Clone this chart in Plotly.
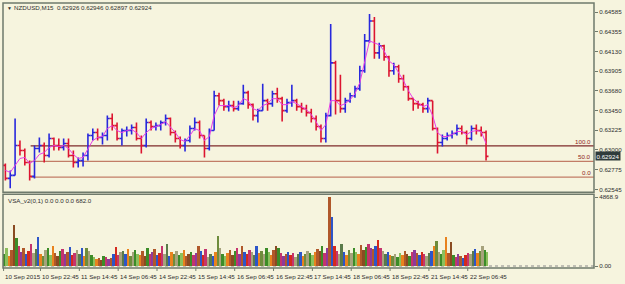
import plotly.graph_objects as go

# ---------------- data ----------------
symbol_text = "NZDUSD,M15  0.62926 0.62946 0.62897 0.62924"
indicator_text = "VSA_v2(0,1) 0.0 0.0 0.0 682.0"

tick_labels = ["10 Sep 2015", "10 Sep 22:45", "11 Sep 14:45", "14 Sep 06:45", "14 Sep 22:45",
               "15 Sep 14:45", "16 Sep 06:45", "16 Sep 22:45", "17 Sep 14:45", "18 Sep 06:45",
               "18 Sep 22:45", "21 Sep 14:45", "22 Sep 06:45"]
tick_bar = [0, 8, 16, 24, 32, 40, 48, 56, 64, 72, 80, 88, 96]

price_ticks = [0.62545, 0.62775, 0.63000, 0.63225, 0.63450, 0.63680, 0.63905, 0.64130, 0.64355, 0.64585]
price_tick_text = ["0.62545", "0.62775", "0.63000", "0.63225", "0.63450", "0.63680", "0.63905",
                   "0.64130", "0.64355", "0.64585"]

open_ = [0.62820,0.62671,0.62705,0.63049,0.62992,0.62854,0.62694,0.63015,0.63049,0.62935,
         0.63130,0.63049,0.63026,0.63072,0.62935,0.62854,0.62877,0.62935,0.63164,0.63198,
         0.63141,0.63164,0.63359,0.63278,0.63130,0.63221,0.63221,0.63256,0.63130,0.63049,
         0.63313,0.63267,0.63278,0.63313,0.63359,0.63198,0.63130,0.63049,0.63107,0.63244,
         0.63313,0.63164,0.63015,0.63221,0.63622,0.63565,0.63496,0.63508,0.63473,0.63531,
         0.63657,0.63519,0.63393,0.63450,0.63565,0.63531,0.63645,0.63588,0.63450,0.63542,
         0.63565,0.63496,0.63473,0.63427,0.63359,0.63267,0.63130,0.63393,0.64000,0.63565,
         0.63473,0.63565,0.63622,0.63703,0.63909,0.64253,0.64482,0.64115,0.64195,0.64069,
         0.63909,0.63955,0.63817,0.63725,0.63588,0.63531,0.63519,0.63473,0.63565,0.63244,
         0.63084,0.63130,0.63164,0.63187,0.63244,0.63198,0.63130,0.63244,0.63221,0.63198]
high = [0.62843,0.62763,0.63359,0.63107,0.63015,0.62877,0.63049,0.63141,0.63084,0.63187,
        0.63141,0.63130,0.63130,0.63130,0.62992,0.62912,0.62969,0.63187,0.63244,0.63244,
        0.63198,0.63393,0.63416,0.63313,0.63244,0.63267,0.63290,0.63313,0.63164,0.63359,
        0.63336,0.63313,0.63336,0.63405,0.63370,0.63221,0.63152,0.63130,0.63278,0.63370,
        0.63336,0.63164,0.63244,0.63680,0.63657,0.63588,0.63565,0.63565,0.63565,0.63748,
        0.63680,0.63531,0.63473,0.63760,0.63588,0.63680,0.63714,0.63611,0.63588,0.63748,
        0.63588,0.63542,0.63519,0.63473,0.63393,0.63290,0.63427,0.64447,0.64023,0.63863,
        0.63599,0.63657,0.63737,0.63966,0.64333,0.64562,0.64528,0.64230,0.64207,0.64081,
        0.64000,0.63978,0.63863,0.63737,0.63599,0.63565,0.63542,0.63599,0.63565,0.63256,
        0.63175,0.63198,0.63221,0.63290,0.63278,0.63221,0.63278,0.63290,0.63267,0.63221]
low = [0.62648,0.62557,0.62705,0.62935,0.62820,0.62648,0.62671,0.62969,0.62854,0.62912,
       0.62992,0.62992,0.62992,0.62912,0.62797,0.62797,0.62809,0.62877,0.63107,0.63107,
       0.63061,0.63107,0.63221,0.63107,0.63049,0.63152,0.63175,0.63107,0.62958,0.63026,
       0.63221,0.63221,0.63221,0.63278,0.63164,0.63084,0.63015,0.62981,0.63084,0.63221,
       0.63130,0.62912,0.62992,0.63221,0.63508,0.63450,0.63439,0.63439,0.63450,0.63519,
       0.63473,0.63336,0.63313,0.63450,0.63450,0.63496,0.63542,0.63324,0.63427,0.63496,
       0.63450,0.63427,0.63382,0.63313,0.63221,0.63084,0.63084,0.63382,0.63405,0.63427,
       0.63427,0.63542,0.63599,0.63680,0.63886,0.64230,0.64046,0.64046,0.64023,0.63840,
       0.63863,0.63771,0.63680,0.63565,0.63450,0.63473,0.63427,0.63427,0.63221,0.62958,
       0.63038,0.63107,0.63130,0.63164,0.63175,0.63061,0.63107,0.63175,0.63152,0.62877]
close = [0.62671,0.62705,0.63049,0.62992,0.62854,0.62694,0.63015,0.63049,0.62935,0.63130,
         0.63049,0.63026,0.63072,0.62935,0.62854,0.62877,0.62935,0.63164,0.63198,0.63141,
         0.63164,0.63359,0.63278,0.63130,0.63221,0.63221,0.63256,0.63130,0.63049,0.63313,
         0.63267,0.63278,0.63313,0.63359,0.63198,0.63130,0.63049,0.63107,0.63244,0.63313,
         0.63164,0.63015,0.63221,0.63622,0.63565,0.63496,0.63508,0.63473,0.63531,0.63657,
         0.63519,0.63393,0.63450,0.63565,0.63531,0.63645,0.63588,0.63450,0.63542,0.63565,
         0.63496,0.63473,0.63427,0.63359,0.63267,0.63130,0.63393,0.64000,0.63565,0.63473,
         0.63565,0.63622,0.63703,0.63909,0.64253,0.64482,0.64115,0.64195,0.64069,0.63909,
         0.63955,0.63817,0.63725,0.63588,0.63531,0.63519,0.63473,0.63565,0.63244,0.63084,
         0.63130,0.63164,0.63187,0.63244,0.63198,0.63130,0.63244,0.63221,0.63198,0.62924]
ma = [0.62763,0.62740,0.62820,0.62900,0.62912,0.62843,0.62877,0.62946,0.62969,0.63026,
      0.63049,0.63038,0.63049,0.63015,0.62946,0.62900,0.62912,0.63015,0.63107,0.63141,
      0.63152,0.63244,0.63278,0.63221,0.63198,0.63221,0.63233,0.63198,0.63130,0.63198,
      0.63244,0.63267,0.63290,0.63324,0.63267,0.63198,0.63118,0.63095,0.63164,0.63244,
      0.63221,0.63107,0.63152,0.63393,0.63508,0.63508,0.63508,0.63485,0.63508,0.63588,
      0.63565,0.63473,0.63450,0.63508,0.63531,0.63588,0.63588,0.63519,0.63519,0.63554,
      0.63531,0.63496,0.63462,0.63405,0.63324,0.63221,0.63290,0.63565,0.63565,0.63508,
      0.63531,0.63576,0.63645,0.63771,0.64000,0.64253,0.64230,0.64207,0.64138,0.64023,
      0.63978,0.63886,0.63794,0.63680,0.63588,0.63542,0.63496,0.63519,0.63393,0.63198,
      0.63152,0.63152,0.63175,0.63210,0.63210,0.63175,0.63210,0.63221,0.63210,0.63072]

volume = [847,1271,706,1130,2895,1977,1412,988,1271,847,1059,1553,918,1200,2047,847,706,1130,1271,777,
          1412,918,706,1059,1200,847,988,1341,777,918,1130,847,1271,706,1271,1059,777,635,494,565,
          424,706,635,494,565,847,1341,777,988,1059,847,1200,706,988,1130,847,777,1059,706,1271,
          847,988,1200,777,918,1412,847,1553,706,988,847,1059,777,918,1130,706,847,988,777,918,
          1412,1059,777,1200,635,847,706,988,2118,1271,847,706,918,1130,777,1059,1271,847,1412,988,
          847,1130,988,777,1412,918,1059,847,1271,988,777,1130,1412,1271,918,706,847,988,777,918,
          635,847,988,706,847,1059,918,777,988,1200,1059,1412,918,1271,4868.9,3459,1412,1059,847,1553,
          988,777,1130,918,1271,988,847,1483,1130,1341,1553,1271,1200,1412,1836,1271,1059,847,988,777,
          706,847,635,918,777,1059,847,706,988,1130,918,777,988,847,706,918,1059,1412,1765,988,
          847,1130,2047,918,1694,777,635,847,706,565,777,918,847,1059,1200,918,1059,1412,1130,988]
volume_max = 4868.9

fib_labels = ["100.0", "50.0", "0.0"]
fib_prices = [0.63044, 0.62866, 0.62686]
fib_start_bar = 5

# ---------------- styling / layout helpers ----------------
W, H = 625, 284
ML, MR, MT, MB = 3, 28, 3, 17
PH = H - MT - MB


def py(Y):
    return (H - MB - Y) / PH


BG = "#F6F4DE"
BORDER = "#6F7A6C"
TXT = "#2E2E2E"
FONT = "Liberation Sans"
FS = 6.2

bars = list(range(len(close)))
vol_x = [j / 2 - 0.25 for j in range(len(volume))]
xr = [-0.49, 121.23]
tick_x = [b - 0.77 for b in tick_bar]


def px_frac(v):
    return (v - xr[0]) / (xr[1] - xr[0])


palette = ['#3C8C28', '#D42A1E', '#E8821E', '#8E3A9A', '#A6A27C', '#8A4B22',
           '#2D55C8', '#8CBF5C', '#C4346E', '#6E8C3C', '#B0582A', '#5A7A4A']
vol_colors = [palette[(j * 7 + j // 3) % len(palette)] for j in range(len(volume))]

fig = go.Figure()
fig.add_trace(go.Ohlc(x=bars, open=open_, high=high, low=low, close=close,
                      increasing=dict(line=dict(color="#2828DC", width=1.6)),
                      decreasing=dict(line=dict(color="#DC1430", width=1.6)),
                      tickwidth=0.5, xaxis="x", yaxis="y", hoverinfo="skip"))
fig.add_trace(go.Scatter(x=bars, y=ma, mode="lines", line=dict(color="#E83CE8", width=1),
                         xaxis="x", yaxis="y", hoverinfo="skip"))
fig.add_trace(go.Bar(x=vol_x, y=volume, width=0.5, marker=dict(color=vol_colors, line=dict(width=0)),
                     xaxis="x2", yaxis="y2", hoverinfo="skip"))

shapes = []
fib_colors = ["#7E2A2A", "#C27C66", "#C27C66"]
for p, c in zip(fib_prices, fib_colors):
    shapes.append(dict(type="line", xref="x", yref="y", x0=fib_start_bar + 0.2, x1=xr[1], y0=p, y1=p,
                       line=dict(color=c, width=1.2), layer="below"))
shapes.append(dict(type="line", xref="paper", yref="y2", x0=0, x1=1, y0=0, y1=0,
                   line=dict(color="#8A8A8A", width=1, dash="dot"), layer="below"))
shapes.append(dict(type="rect", xref="paper", yref="paper", x0=0, x1=1, y0=py(192), y1=py(2),
                   line=dict(color=BORDER, width=1.5)))
shapes.append(dict(type="rect", xref="paper", yref="paper", x0=0, x1=1, y0=py(268), y1=py(194),
                   line=dict(color=BORDER, width=1.5)))
for tx in tick_x:
    shapes.append(dict(type="line", xref="paper", yref="paper", x0=max(px_frac(tx), 0.001),
                       x1=max(px_frac(tx), 0.001), y0=py(268), y1=py(271),
                       line=dict(color=BORDER, width=1)))

ann = []
ann.append(dict(xref="paper", yref="paper", x=(5 - ML) / 594, y=py(7), text="▼", showarrow=False,
                xanchor="left", yanchor="middle", font=dict(family=FONT, size=5, color=TXT)))
ann.append(dict(xref="paper", yref="paper", x=(12 - ML) / 594, y=py(7), text=symbol_text, showarrow=False,
                xanchor="left", yanchor="middle", font=dict(family=FONT, size=FS, color=TXT)))
ann.append(dict(xref="paper", yref="paper", x=(6 - ML) / 594, y=py(200), text=indicator_text, showarrow=False,
                xanchor="left", yanchor="middle", font=dict(family=FONT, size=FS, color=TXT)))
for lab, p in zip(fib_labels, fib_prices):
    ann.append(dict(xref="paper", yref="y", x=1, y=p, text=lab, showarrow=False, xanchor="right",
                    yanchor="bottom", xshift=-1, yshift=-1,
                    font=dict(family=FONT, size=FS, color="#8E2222")))
ann.append(dict(xref="paper", yref="y", x=1, y=close[-1], text=f"{close[-1]:.5f}", showarrow=False,
                xanchor="left", yanchor="middle", xshift=1, bgcolor="#2F3B3B", borderpad=0.5,
                font=dict(family=FONT, size=FS, color="#FFFFFF")))
for tx, lab in zip(tick_x, tick_labels):
    ann.append(dict(xref="paper", yref="paper", x=max(px_frac(tx), 0.0), y=py(277), text=lab,
                    showarrow=False, xanchor="left", yanchor="middle", xshift=0,
                    font=dict(family=FONT, size=FS, color=TXT)))

fig.update_layout(
    width=W, height=H, margin=dict(l=ML, r=MR, t=MT, b=MB),
    paper_bgcolor=BG, plot_bgcolor=BG, showlegend=False, bargap=0,
    xaxis=dict(domain=[0, 1], range=xr, anchor="y", showticklabels=False, showgrid=False,
               zeroline=False, rangeslider=dict(visible=False), ticks=""),
    xaxis2=dict(domain=[0, 1], range=xr, anchor="y2", showticklabels=False, showgrid=False,
                zeroline=False, ticks="", showline=False),
    yaxis=dict(domain=[py(192), 1], range=[0.62511, 0.64677], side="right", anchor="x",
               tickvals=price_ticks, ticktext=price_tick_text, ticks="outside", ticklen=3,
               tickcolor=BORDER, showgrid=False, zeroline=False,
               tickfont=dict(family=FONT, size=FS, color=TXT)),
    yaxis2=dict(domain=[0, py(194)], range=[-70.6, 5080.7], side="right", anchor="x2",
                tickvals=[0, volume_max], ticktext=["0.00", f"{volume_max:.1f}"], ticks="outside",
                ticklen=3, tickcolor=BORDER, showgrid=False, zeroline=False,
                tickfont=dict(family=FONT, size=FS, color=TXT)),
    shapes=shapes, annotations=ann,
)

fig.write_html("out.html")
